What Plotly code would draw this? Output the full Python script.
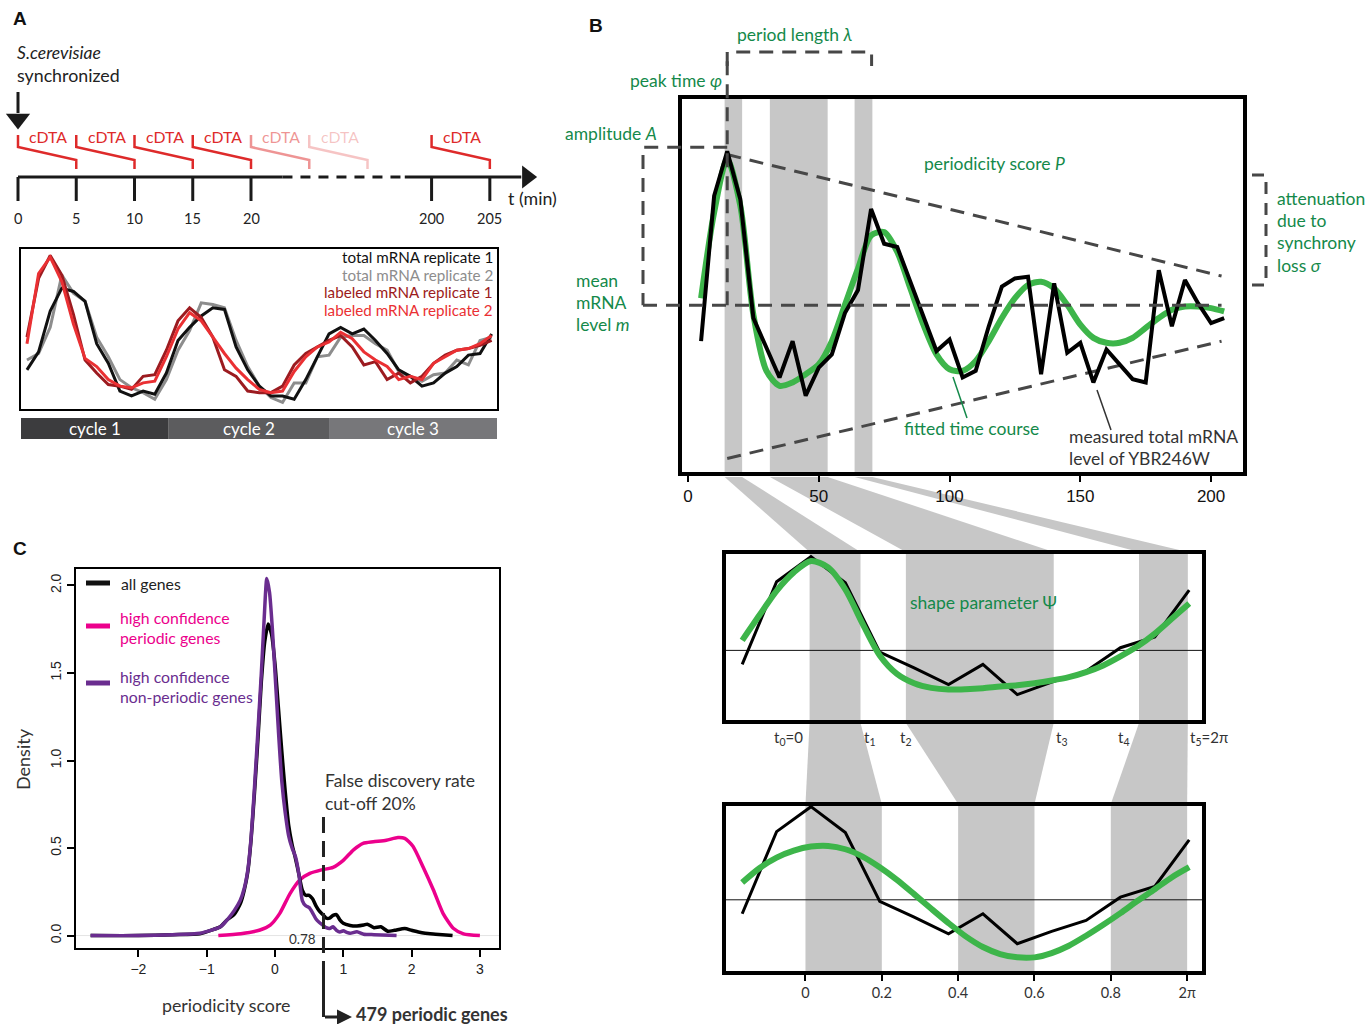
import plotly.graph_objects as go

W, H = 1370, 1024

# ---------------- data ----------------
# Panel A: sampling scheme (minutes)
tl_ticks = [0, 5, 10, 15, 20, 200, 205]
tl_label_start = [0, 5, 10, 15, 20, 25, 200]
tl_label_len = 5
tl_label_opacity = [1, 1, 1, 1, 0.5, 0.28, 1]
tl_break = (22.7, 197.7)
tl_shift = 164.5
tl_arrow_end = 208.2

# Panel A: expression time courses (relative level)
a_time = list(range(0, 201, 5))
a_total_rep1 = [12, 17.5, 30, 37, 36, 33, 20, 14, 5.5, 4, 5.5, 4.5, 11, 21, 25, 28.5, 31, 30.5, 19, 12,
                7, 4, 4, 3, 9, 16, 23, 25, 23, 24.5, 21, 17, 12, 10, 7, 8, 11, 13, 16.5, 17, 23]
a_total_rep2 = [15, 17, 25, 41, 35.5, 33, 22, 16, 9, 6.5, 5, 3, 9, 18, 24, 32.5, 32, 31, 21, 13,
                7, 3.5, 2, 8, 8, 16, 16.5, 22, 22.5, 22.5, 20, 18, 11.5, 10, 8.5, 10.5, 11, 15, 13.5, 21, 22]
a_labeled_rep1 = [22, 40, 47, 41, 29, 15, 11, 7.5, 7, 6, 10, 10.5, 18, 27, 31, 28, 22, 12, 10, 5.5,
                  5, 5, 7, 13.5, 17, 19, 21, 22.5, 19, 13.5, 14.5, 9, 11, 8, 10, 14, 16.5, 18, 18.5, 19.5, 21]
a_labeled_rep2 = [20, 41.5, 46.5, 39, 26, 15.5, 13, 9, 7, 6.5, 8, 8.5, 16, 24.5, 29.5, 27, 22, 17, 12.5, 9,
                  6, 5, 5.5, 11.5, 16, 19, 20.5, 23.5, 21.5, 17.5, 15, 13, 9, 10, 9, 14, 16, 18, 18.5, 20, 22.5]
a_series_names = ["total mRNA replicate 1", "total mRNA replicate 2",
                  "labeled mRNA replicate 1", "labeled mRNA replicate 2"]
cycle_edges = [61, 130]
cycle_names = ["cycle 1", "cycle 2", "cycle 3"]

# Panel B: YBR246W
b_time = list(range(5, 206, 5))
b_measured = [3.95, 8.35, 9.7, 8.25, 4.65, 3.75, 2.85, 3.95, 2.3, 3.15, 3.55, 4.8, 5.5, 7.95, 6.9, 6.8,
              5.75, 4.75, 3.65, 4.0, 2.85, 3.05, 4.4, 5.6, 5.85, 5.9, 2.95, 5.7, 3.6, 3.9, 2.7, 3.7,
              3.25, 2.8, 2.7, 6.1, 4.4, 5.8, 5.1, 4.5, 4.65]
b_fitted = [5.25, 7.85, 9.45, 8.05, 4.75, 3.05, 2.6, 2.7, 2.95, 3.25, 3.95, 5.05, 6.15, 7.15, 7.25, 6.65,
            5.55, 4.45, 3.55, 3.1, 3.05, 3.35, 3.95, 4.65, 5.25, 5.65, 5.75, 5.55, 5.05, 4.45, 4.05, 3.9,
            3.9, 4.05, 4.35, 4.65, 4.9, 5.0, 5.0, 4.95, 4.85]
b_bands = [(14.0, 20.7), (31.3, 53.4), (63.7, 70.5)]
b_ticks = [0, 50, 100, 150, 200]
peak_time = 15.0
period_end = 70.2
mean_level = 5.04
amp_top = 9.82
env_t = [15, 204]
env_upper = [9.6, 5.92]
env_lower = [0.4, 3.95]

# Panel B: one cycle, shape model and sine model
seg_time = list(range(5, 71, 5))
seg_measured = [1.78, 4.25, 5.0, 4.22, 2.15, 1.68, 1.18, 1.78, 0.88, 1.25, 1.58, 2.28, 2.6, 4.0]
seg_time_fine = [5, 7.5, 10, 12.5, 15, 17.5, 20, 22.5, 25, 27.5, 30, 32.5, 35, 37.5, 40, 42.5, 45,
                 47.5, 50, 52.5, 55, 57.5, 60, 62.5, 65, 67.5, 70]
seg_shape_fit = [2.5, 3.25, 3.98, 4.53, 4.87, 4.68, 4.02, 3.0, 2.05, 1.5, 1.22, 1.08, 1.03, 1.04, 1.07,
                 1.12, 1.16, 1.22, 1.3, 1.4, 1.55, 1.75, 2.02, 2.32, 2.7, 3.15, 3.6]
seg_sine_fit = [2.72, 3.15, 3.47, 3.68, 3.8, 3.82, 3.72, 3.5, 3.18, 2.8, 2.37, 1.93, 1.5, 1.1, 0.78,
                0.57, 0.47, 0.47, 0.6, 0.82, 1.12, 1.45, 1.8, 2.17, 2.52, 2.88, 3.18]
seg_mean = 2.2
shape_knots = [14.8, 22.2, 28.8, 50.3, 62.7, 69.8]
knot_labels = ["t<sub>0</sub>=0", "t<sub>1</sub>", "t<sub>2</sub>", "t<sub>3</sub>", "t<sub>4</sub>",
               "t<sub>5</sub>=2π"]
phase_origin = 14.2
phase_period = 55.5
phase_ticks = [0, 0.2, 0.4, 0.6, 0.8, 1.0]
phase_labels = ["0", "0.2", "0.4", "0.6", "0.8", "2π"]
phase_bands = [(0, 0.2), (0.4, 0.6), (0.8, 1.0)]

# Panel C: densities of periodicity score
all_x = [-2.7, -2.0, -1.5, -1.1, -0.9, -0.8, -0.7, -0.6, -0.55, -0.5, -0.45, -0.4, -0.35, -0.3, -0.25,
         -0.2, -0.15, -0.1, -0.05, 0.0, 0.05, 0.1, 0.15, 0.2, 0.25, 0.3, 0.35, 0.4, 0.45, 0.5, 0.55,
         0.6, 0.65, 0.7, 0.75, 0.8, 0.85, 0.9, 0.95, 1.0, 1.1, 1.2, 1.3, 1.35, 1.45, 1.55, 1.65, 1.75,
         1.9, 2.0, 2.1, 2.2, 2.35, 2.6]
all_y = [0, 0, 0.005, 0.01, 0.035, 0.05, 0.09, 0.12, 0.15, 0.19, 0.26, 0.36, 0.55, 0.82, 1.12,
         1.45, 1.68, 1.78, 1.72, 1.55, 1.3, 1.05, 0.82, 0.63, 0.52, 0.44, 0.35, 0.26, 0.23, 0.23, 0.21,
         0.17, 0.14, 0.12, 0.1, 0.1, 0.115, 0.12, 0.09, 0.07, 0.058, 0.055, 0.06, 0.065, 0.045, 0.05,
         0.025, 0.03, 0.04, 0.03, 0.02, 0.013, 0.008, 0.0]
nonper_x = [-2.7, -2.0, -1.5, -1.1, -0.8, -0.7, -0.6, -0.51, -0.45, -0.4, -0.35, -0.3, -0.25, -0.2,
            -0.16, -0.12, -0.08, -0.04, 0.0, 0.05, 0.1, 0.15, 0.2, 0.25, 0.3, 0.35, 0.4, 0.45, 0.5,
            0.55, 0.6, 0.65, 0.7, 0.75, 0.8, 0.85, 0.9, 0.95, 1.0, 1.05, 1.1, 1.2, 1.3, 1.45, 1.78]
nonper_y = [0, 0, 0.005, 0.013, 0.05, 0.09, 0.14, 0.2, 0.27, 0.37, 0.56, 0.85, 1.17, 1.5,
            1.8, 2.04, 1.96, 1.76, 1.5, 1.17, 0.88, 0.7, 0.57, 0.5, 0.45, 0.35, 0.2, 0.17, 0.16,
            0.13, 0.095, 0.075, 0.06, 0.045, 0.04, 0.05, 0.03, 0.02, 0.027, 0.018, 0.013, 0.022, 0.008,
            0.005, 0.0]
per_x = [-0.83, -0.5, -0.22, -0.07, 0.07, 0.22, 0.37, 0.51, 0.68, 0.85, 1.0, 1.15, 1.29, 1.44, 1.63,
         1.8, 1.9, 2.02, 2.17, 2.32, 2.46, 2.61, 2.76, 3.0]
per_y = [0, 0.01, 0.032, 0.06, 0.127, 0.24, 0.32, 0.355, 0.375, 0.39, 0.43, 0.49, 0.527, 0.536, 0.545,
         0.56, 0.555, 0.51, 0.39, 0.26, 0.127, 0.042, 0.01, 0.0]
c_xticks = [-2, -1, 0, 1, 2, 3]
c_yticks = [0, 0.5, 1.0, 1.5, 2.0]
cutoff_pos = 0.71
cutoff_label = "0.78"
n_periodic = 479

# ---------------- style ----------------
GREEN_TXT = "#14894a"
GREEN_LN = "#3db54a"
DASH_C = "#474747"
GRAY_BAND = "#c7c7c7"
PINK = "#ec008c"
PURPLE = "#6a2d8f"
RED = "#ea3033"
DARKRED = "#9c1b20"
GRAY = "#8d8d8d"
FONT = "Lato"
ARIAL = "Liberation Sans"
LBL = 17.5  # annotation font size


def PX(x):
    return x / W


def PY(y):
    return 1 - y / H


def dom_x(a, b):
    return [PX(a), PX(b)]


def dom_y(top, bottom):
    return [PY(bottom), PY(top)]


# axis geometry (pixels / data ranges)
A_XD, A_XR = (21, 497), (-2.57, 202.3)
A_YD, A_YR = (249, 409), (0, 49)
TL_XD, TL_XR = (0, 560), (-18 / 11.65, 542 / 11.65)
TL_YD, TL_YR = (30, 240), (240, 30)
B_XD, B_XR = (682, 1243), (-2.29, 212.2)
B_YD, B_YR = (99, 472), (-0.01, 11.28)
S_XD, S_XR = (726, 1202), (2.644, 71.86)
M_YD, M_YR = (554, 720), (0.12, 5.08)
L_YD, L_YR = (806, 971), (0.06, 5.02)
C_XD, C_XR = (76, 499), (-2.914, 3.28)
C_YD, C_YR = (569, 948), (-0.071, 2.094)


def map_x(v, d, r):
    return d[0] + (v - r[0]) / (r[1] - r[0]) * (d[1] - d[0])


def map_y(v, d, r):
    return d[1] - (v - r[0]) / (r[1] - r[0]) * (d[1] - d[0])


def tl_d(t):
    return t if t < 100 else t - tl_shift


def phase_t(p):
    return phase_origin + p * phase_period


fig = go.Figure()


def line(x, y, xa, ya, color, width, dash=None, shape="linear", smoothing=None):
    ld = dict(color=color, width=width, shape=shape)
    if dash:
        ld["dash"] = dash
    if smoothing is not None:
        ld["smoothing"] = smoothing
    fig.add_trace(go.Scatter(x=x, y=y, xaxis=xa, yaxis=ya, mode="lines", line=ld,
                             hoverinfo="skip", showlegend=False))


def txt(s, x, y, size=LBL, color="#222", anchor="left", family=FONT, angle=0,
        xref="paper", yref="paper", xshift=0):
    """x, y are pixels when the reference is 'paper', data values otherwise."""
    if xref == "paper":
        x = PX(x)
    if yref == "paper":
        y = PY(y)
    fig.add_annotation(text=s, x=x, y=y, xref=xref, yref=yref, xanchor=anchor, yanchor="middle",
                       showarrow=False, font=dict(size=size, color=color, family=family),
                       textangle=angle, xshift=xshift)


shapes = []

# ================= Panel A: timeline =================
AX_Y = 177
line([tl_d(0), tl_d(tl_break[0])], [AX_Y, AX_Y], "x2", "y2", "#1a1a1a", 3)
line([tl_d(tl_break[0]), tl_d(tl_break[1])], [AX_Y, AX_Y], "x2", "y2", "#1a1a1a", 3, dash="10px,8px")
line([tl_d(tl_break[1]), tl_d(tl_arrow_end) - 0.5], [AX_Y, AX_Y], "x2", "y2", "#1a1a1a", 3)
fig.add_trace(go.Scatter(x=[tl_d(tl_arrow_end)], y=[AX_Y], xaxis="x2", yaxis="y2", mode="markers",
                         marker=dict(symbol="triangle-right", size=20, color="#1a1a1a"),
                         hoverinfo="skip", showlegend=False))
tx, ty = [], []
for t in tl_ticks:
    tx += [tl_d(t), tl_d(t), None]
    ty += [AX_Y, 201, None]
line(tx, ty, "x2", "y2", "#1a1a1a", 3)
for t in tl_ticks:
    txt(str(t), tl_d(t), 218, 14.5, "#222", "center", xref="x2", yref="y2")
for s, a in zip(tl_label_start, tl_label_opacity):
    col = f"rgba(222,42,42,{a})"
    e = s + tl_label_len
    line([tl_d(s), tl_d(s), tl_d(e), tl_d(e)], [135, 147, 160, 169], "x2", "y2", col, 2.5)
    txt("cDTA", tl_d(s) + 0.8, 136, 15.8, col, "left", xref="x2", yref="y2")
# synchronization arrow
line([tl_d(0), tl_d(0)], [92, 113], "x2", "y2", "#1a1a1a", 3)
fig.add_trace(go.Scatter(x=[tl_d(0)], y=[119], xaxis="x2", yaxis="y2", mode="markers",
                         marker=dict(symbol="triangle-down", size=21, color="#1a1a1a"),
                         hoverinfo="skip", showlegend=False))
txt("<b>A</b>", 11, 18, 19, "#111", family=ARIAL)
txt("<i>S.cerevisiae</i>", 15, 52, 17.5)
txt("synchronized", 15, 75, 17.8)
txt("t (min)", 506, 198, 17.8)

# ================= Panel A: time course =================
a_series = [a_total_rep2, a_total_rep1, a_labeled_rep1, a_labeled_rep2]
a_colors = [GRAY, "#111111", DARKRED, RED]
for ys, c in zip(a_series, a_colors):
    line(a_time, ys, "x", "y", c, 3)
leg_cols = ["#111111", GRAY, DARKRED, RED]
for i, (nm, c) in enumerate(zip(a_series_names, leg_cols)):
    txt(nm, 495, 257 + 17.7 * i, 15.2, c, "right")
cyc_b = [A_XR[0]] + cycle_edges + [A_XR[1]]
cyc_cols = ["#3c3c3e", "#5c5c5e", "#77777a"]
for i in range(3):
    shapes.append(dict(type="rect", xref="x", yref="paper", x0=cyc_b[i], x1=cyc_b[i + 1],
                       y0=PY(439), y1=PY(418), fillcolor=cyc_cols[i], line=dict(width=0)))
    txt(cycle_names[i], (cyc_b[i] + cyc_b[i + 1]) / 2, 428.5, 17, "white", "center",
        xref="x", yref="paper")

# ================= Panel B: main =================
for a, b in b_bands:
    shapes.append(dict(type="rect", xref="x3", yref="y3 domain", x0=a, x1=b, y0=0, y1=1,
                       fillcolor=GRAY_BAND, line=dict(width=0), layer="below"))
line(env_t, env_upper, "x3", "y3", DASH_C, 3, dash="14px,9px")
line(env_t, env_lower, "x3", "y3", DASH_C, 3, dash="14px,9px")
line(b_time, b_fitted, "x3", "y3", GREEN_LN, 6, shape="spline", smoothing=0.8)
line(b_time, b_measured, "x3", "y3", "#000000", 4)

bx = lambda t: map_x(t, B_XD, B_XR)
by = lambda v: map_y(v, B_YD, B_YR)
sx = lambda t: map_x(t, S_XD, S_XR)

dash_line = dict(color=DASH_C, width=3, dash="14px,9px")
shapes.append(dict(type="line", xref="paper", yref="y3", x0=PX(643), x1=PX(bx(env_t[1])),
                   y0=mean_level, y1=mean_level, line=dash_line))
shapes.append(dict(type="path", xref="paper", yref="y3",
                   path=f"M {PX(bx(peak_time))},{amp_top} L {PX(643)},{amp_top} L {PX(643)},{mean_level}",
                   line=dash_line))
shapes.append(dict(type="line", xref="x3", yref="paper", x0=peak_time, x1=peak_time,
                   y0=PY(by(mean_level)), y1=PY(52), line=dash_line))
shapes.append(dict(type="path", xref="x3", yref="paper",
                   path=f"M {peak_time},{PY(66)} L {peak_time},{PY(52)} L {period_end},{PY(52)} L {period_end},{PY(66)}",
                   line=dash_line))
shapes.append(dict(type="path", xref="paper", yref="paper",
                   path=f"M {PX(1252)},{PY(175)} L {PX(1266)},{PY(175)} L {PX(1266)},{PY(285)} L {PX(1252)},{PY(285)}",
                   line=dict(color=DASH_C, width=3, dash="12px,9px")))
shapes.append(dict(type="line", xref="paper", yref="paper", x0=PX(953), y0=PY(377), x1=PX(967),
                   y1=PY(418), line=dict(color=GREEN_TXT, width=1.5)))
shapes.append(dict(type="line", xref="paper", yref="paper", x0=PX(1097), y0=PY(390), x1=PX(1111),
                   y1=PY(430), line=dict(color="#333", width=1.5)))

txt("<b>B</b>", 587, 25, 19, "#111", family=ARIAL)
txt("period length <i>λ</i>", 795, 34, LBL, GREEN_TXT, "center")
txt("peak time <i>φ</i>", 676, 80, LBL, GREEN_TXT, "center")
txt("amplitude <i>A</i>", 611, 133, LBL, GREEN_TXT, "center")
txt("mean", 574, 280, LBL, GREEN_TXT)
txt("mRNA", 574, 302, LBL, GREEN_TXT)
txt("level <i>m</i>", 574, 324, LBL, GREEN_TXT)
txt("periodicity score <i>P</i>", 995, 163, LBL, GREEN_TXT, "center")
for i, s in enumerate(["attenuation", "due to", "synchrony", "loss <i>σ</i>"]):
    txt(s, 1275, 198 + 22.4 * i, LBL, GREEN_TXT)
txt("fitted time course", 971, 428, LBL, GREEN_TXT, "center")
txt("measured total mRNA", 1067, 436, LBL, "#333")
txt("level of YBR246W", 1067, 458, LBL, "#333")

# connectors B -> middle
for (a, b), i in zip(b_bands, range(3)):
    k0, k1 = shape_knots[2 * i], shape_knots[2 * i + 1]
    shapes.append(dict(type="path", xref="paper", yref="paper", layer="below",
                       path=f"M {PX(bx(a))},{PY(477)} L {PX(bx(b))},{PY(477)} L {PX(sx(k1))},{PY(552)} L {PX(sx(k0))},{PY(552)} Z",
                       fillcolor=GRAY_BAND, line=dict(width=0)))
# connectors middle -> lower
for i, (p0, p1) in enumerate(phase_bands):
    k0, k1 = shape_knots[2 * i], shape_knots[2 * i + 1]
    shapes.append(dict(type="path", xref="paper", yref="paper", layer="below",
                       path=f"M {PX(sx(k0))},{PY(723)} L {PX(sx(k1))},{PY(723)} L {PX(sx(phase_t(p1)))},{PY(804)} L {PX(sx(phase_t(p0)))},{PY(804)} Z",
                       fillcolor=GRAY_BAND, line=dict(width=0)))

# ================= Panel B: middle (shape model) =================
for i in range(3):
    shapes.append(dict(type="rect", xref="x4", yref="y4 domain", x0=shape_knots[2 * i],
                       x1=shape_knots[2 * i + 1], y0=0, y1=1, fillcolor=GRAY_BAND,
                       line=dict(width=0), layer="below"))
shapes.append(dict(type="line", xref="x4 domain", yref="y4", x0=0, x1=1, y0=seg_mean, y1=seg_mean,
                   line=dict(color="#111", width=1), layer="below"))
line(seg_time, seg_measured, "x4", "y4", "#000000", 3)
line(seg_time_fine, seg_shape_fit, "x4", "y4", GREEN_LN, 6, shape="spline", smoothing=0.8)
txt("shape parameter Ψ", 983, 602, LBL, GREEN_TXT, "center")
k_anchor = ["right", "left", "center", "left", "right", "left"]
k_shift = [-5, 2, 0, 0, -8, 0]
for k, lab, an, sh in zip(shape_knots, knot_labels, k_anchor, k_shift):
    txt(lab, k, 738, 15, "#333", an, xref="x4", yref="paper", xshift=sh)

# ================= Panel B: lower (sine model) =================
for p0, p1 in phase_bands:
    shapes.append(dict(type="rect", xref="x5", yref="y5 domain", x0=phase_t(p0), x1=phase_t(p1),
                       y0=0, y1=1, fillcolor=GRAY_BAND, line=dict(width=0), layer="below"))
shapes.append(dict(type="line", xref="x5 domain", yref="y5", x0=0, x1=1, y0=seg_mean, y1=seg_mean,
                   line=dict(color="#111", width=1), layer="below"))
line(seg_time, seg_measured, "x5", "y5", "#000000", 3)
line(seg_time_fine, seg_sine_fit, "x5", "y5", GREEN_LN, 6, shape="spline", smoothing=0.8)

# ================= Panel C =================
shapes.append(dict(type="line", xref="x6 domain", yref="y6", x0=0, x1=1, y0=0, y1=0,
                   line=dict(color="#e4e4e4", width=1), layer="below"))
line(per_x, per_y, "x6", "y6", PINK, 3.5, shape="spline", smoothing=0.6)
line(all_x, all_y, "x6", "y6", "#000000", 3.5, shape="spline", smoothing=0.6)
line(nonper_x, nonper_y, "x6", "y6", PURPLE, 3.5, shape="spline", smoothing=0.6)
shapes.append(dict(type="line", xref="x6", yref="paper", x0=cutoff_pos, x1=cutoff_pos,
                   y0=PY(817), y1=PY(975), line=dict(color="#222", width=3, dash="16px,8px")))
shapes.append(dict(type="line", xref="x6", yref="paper", x0=cutoff_pos, x1=cutoff_pos,
                   y0=PY(975), y1=PY(1017), line=dict(color="#222", width=3)))
cpx = map_x(cutoff_pos, C_XD, C_XR)
fig.add_annotation(x=PX(352), y=PY(1017), xref="paper", yref="paper", text="", showarrow=True,
                   ax=-(352 - cpx), ay=0, arrowhead=2, arrowsize=1, arrowwidth=3, arrowcolor="#222",
                   standoff=0)
for yy, col in [(583, "#111"), (626, PINK), (683, PURPLE)]:
    shapes.append(dict(type="line", xref="paper", yref="paper", x0=PX(86), x1=PX(110), y0=PY(yy),
                       y1=PY(yy), line=dict(color=col, width=5)))
txt("<b>C</b>", 11, 548, 19, "#111", family=ARIAL)
txt("all genes", 119, 583, 15.8, "#222")
txt("high confidence", 118, 617, 15.8, PINK)
txt("periodic genes", 118, 637, 15.8, PINK)
txt("high confidence", 118, 676, 15.8, PURPLE)
txt("non-periodic genes", 118, 696, 15.8, PURPLE)
txt("Density", 23, 759, 18, "#333", "center", angle=-90)
txt("periodicity score", 226, 1005, 17.8, "#333", "center")
txt("False discovery rate", 323, 780, LBL, "#333")
txt("cut-off 20%", 323, 803, LBL, "#333")
txt(cutoff_label, 318, 939, 13.5, "#333", "right")
txt(f"<b>{n_periodic} periodic genes</b>", 354, 1014, 18, "#333")

# ================= layout =================
box = dict(showline=True, mirror=True, linecolor="#000", showgrid=False, zeroline=False)
hidden = dict(visible=False, showgrid=False, zeroline=False)
fig.update_layout(
    width=W, height=H, margin=dict(l=0, r=0, t=0, b=0), autosize=False,
    paper_bgcolor="white", plot_bgcolor="rgba(0,0,0,0)", showlegend=False,
    font=dict(family=FONT, color="#222"),
    shapes=shapes,
    xaxis=dict(domain=dom_x(*A_XD), range=list(A_XR), anchor="y", linewidth=1.5,
               showticklabels=False, ticks="", **box),
    yaxis=dict(domain=dom_y(*A_YD), range=list(A_YR), anchor="x", linewidth=1.5,
               showticklabels=False, ticks="", **box),
    xaxis2=dict(domain=dom_x(*TL_XD), range=list(TL_XR), anchor="y2", **hidden),
    yaxis2=dict(domain=dom_y(*TL_YD), range=list(TL_YR), anchor="x2", **hidden),
    xaxis3=dict(domain=dom_x(*B_XD), range=list(B_XR), anchor="y3", linewidth=4,
                ticks="outside", ticklen=6, tickwidth=2, tickcolor="#000", tickvals=b_ticks,
                tickfont=dict(family=ARIAL, size=17, color="#111"), **box),
    yaxis3=dict(domain=dom_y(*B_YD), range=list(B_YR), anchor="x3", linewidth=4,
                showticklabels=False, ticks="", **box),
    xaxis4=dict(domain=dom_x(*S_XD), range=list(S_XR), anchor="y4", linewidth=4,
                showticklabels=False, ticks="", **box),
    yaxis4=dict(domain=dom_y(*M_YD), range=list(M_YR), anchor="x4", linewidth=4,
                showticklabels=False, ticks="", **box),
    xaxis5=dict(domain=dom_x(*S_XD), range=list(S_XR), anchor="y5", linewidth=4,
                ticks="outside", ticklen=6, tickwidth=2, tickcolor="#000",
                tickvals=[phase_t(p) for p in phase_ticks], ticktext=phase_labels,
                tickfont=dict(family=FONT, size=14.5, color="#333"), **box),
    yaxis5=dict(domain=dom_y(*L_YD), range=list(L_YR), anchor="x5", linewidth=4,
                showticklabels=False, ticks="", **box),
    xaxis6=dict(domain=dom_x(*C_XD), range=list(C_XR), anchor="y6", linewidth=2,
                ticks="outside", ticklen=7, tickwidth=1.5, tickcolor="#000", tickvals=c_xticks,
                ticktext=[str(v).replace("-", "\u2212") for v in c_xticks],
                tickfont=dict(family=ARIAL, size=14, color="#222"), **box),
    yaxis6=dict(domain=dom_y(*C_YD), range=list(C_YR), anchor="x6", linewidth=2,
                ticks="outside", ticklen=7, tickwidth=1.5, tickcolor="#000", tickvals=c_yticks,
                ticktext=[f"{v:.1f}" for v in c_yticks], tickangle=-90,
                tickfont=dict(family=ARIAL, size=14, color="#222"), **box),
)

fig.write_html("out.html", config={"displayModeBar": False},
               post_script="document.body.style.margin='0';document.body.style.overflow='hidden';")
